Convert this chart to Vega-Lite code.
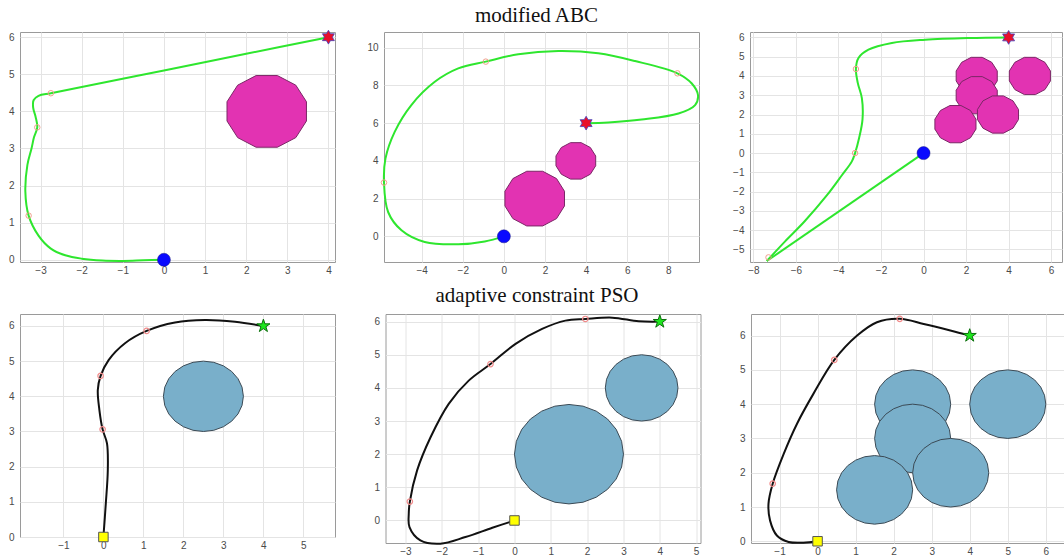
{
"$schema": "https://vega.github.io/schema/vega-lite/v6.json",
"background": "white",
"padding": {"left": 7, "top": 1, "right": 0, "bottom": 0},
"config": {
 "view": {"stroke": "#9a9a9a", "strokeWidth": 1},
 "axis": {"grid": true, "gridColor": "#e4e4e4", "domain": false, "ticks": false, "labelFont": "Liberation Sans", "labelFontSize": 10, "labelColor": "#4a4a4a", "labelPadding": 3},
 "axisY": {"labelPadding": 6},
 "title": {"font": "Liberation Serif", "fontSize": 21, "fontWeight": "normal", "color": "#111111"}
},
"spacing": 8,
"vconcat": [
{
 "spacing": 29,
 "hconcat": [
 {
  "title": {"text": " ", "offset": 6},
  "width": 315, "height": 230,
  "encoding": {
   "x": {"field": "x", "type": "quantitative", "scale": {"domain": [-3.5, 4.16], "nice": false, "zero": false}, "axis": {"values": [-3,-2,-1,0,1,2,3,4], "title": null}},
   "y": {"field": "y", "type": "quantitative", "scale": {"domain": [-0.06, 6.14], "nice": false, "zero": false}, "axis": {"values": [0,1,2,3,4,5,6], "title": null}}
  },
  "layer": [
   {"data": {"values": [
     {"o":1,"x":1.534,"y":4.259,"yb":3.741},{"o":1,"x":1.793,"y":4.707,"yb":3.293},{"o":1,"x":2.241,"y":4.966,"yb":3.034},
     {"o":1,"x":2.759,"y":4.966,"yb":3.034},{"o":1,"x":3.207,"y":4.707,"yb":3.293},{"o":1,"x":3.466,"y":4.259,"yb":3.741}]},
    "mark": {"type": "area", "fill": "#e233b2", "stroke": "#7b2766", "strokeWidth": 1, "opacity": 1},
    "encoding": {"y2": {"field": "yb"}, "detail": {"field": "o", "type": "nominal"}}},
   {"data": {"values": [
     {"i":0,"x":0,"y":0},{"i":1,"x":-0.5,"y":-0.015},{"i":2,"x":-1,"y":-0.03},{"i":3,"x":-1.5,"y":-0.02},{"i":4,"x":-2,"y":0.03},
     {"i":5,"x":-2.4,"y":0.12},{"i":6,"x":-2.75,"y":0.3},{"i":7,"x":-3.05,"y":0.65},{"i":8,"x":-3.29,"y":1.19},{"i":9,"x":-3.37,"y":1.84},
     {"i":10,"x":-3.32,"y":2.56},{"i":11,"x":-3.22,"y":3.0},{"i":12,"x":-3.16,"y":3.3},{"i":13,"x":-3.08,"y":3.57},{"i":14,"x":-3.12,"y":3.85},
     {"i":15,"x":-3.18,"y":4.1},{"i":16,"x":-3.17,"y":4.3},{"i":17,"x":-3.05,"y":4.42},{"i":18,"x":-2.75,"y":4.49},{"i":19,"x":-2,"y":4.658},
     {"i":20,"x":0,"y":5.105},{"i":21,"x":2,"y":5.553},{"i":22,"x":4,"y":6}]},
    "mark": {"type": "line", "color": "#2ee62e", "strokeWidth": 2, "interpolate": "catmull-rom"},
    "encoding": {"order": {"field": "i", "type": "quantitative"}}},
   {"data": {"values": [{"x":-3.29,"y":1.19},{"x":-3.08,"y":3.57},{"x":-2.75,"y":4.49}]},
    "mark": {"type": "point", "shape": "circle", "filled": false, "stroke": "#f0a08c", "strokeWidth": 1, "size": 30, "opacity": 1}, "encoding": {}},
   {"data": {"values": [{"x":0,"y":0}]},
    "mark": {"type": "point", "shape": "circle", "filled": true, "fill": "#0a0aff", "stroke": "#1a1a80", "strokeWidth": 0.5, "size": 170, "opacity": 1}, "encoding": {}},
   {"data": {"values": [{"x":4,"y":6}]},
    "mark": {"type": "point", "shape": "M0,-1L0.289,-0.5L0.866,-0.5L0.577,0L0.866,0.5L0.289,0.5L0,1L-0.289,0.5L-0.866,0.5L-0.577,0L-0.866,-0.5L-0.289,-0.5Z", "filled": true, "fill": "#e8102a", "stroke": "#4040c0", "strokeWidth": 0.8, "size": 190, "opacity": 1}, "encoding": {}}
  ]
 },
 {
  "title": {"text": "modified ABC", "offset": 6, "anchor": "middle", "dx": -5},
  "width": 315, "height": 230,
  "encoding": {
   "x": {"field": "x", "type": "quantitative", "scale": {"domain": [-5.83, 9.49], "nice": false, "zero": false}, "axis": {"values": [-4,-2,0,2,4,6,8], "title": null}},
   "y": {"field": "y", "type": "quantitative", "scale": {"domain": [-1.36, 10.83], "nice": false, "zero": false}, "axis": {"values": [0,2,4,6,8,10], "title": null}}
  },
  "layer": [
   {"data": {"values": [
     {"o":1,"x":0.051,"y":2.388,"yb":1.612},{"o":1,"x":0.439,"y":3.061,"yb":0.939},{"o":1,"x":1.112,"y":3.449,"yb":0.551},
     {"o":1,"x":1.888,"y":3.449,"yb":0.551},{"o":1,"x":2.561,"y":3.061,"yb":0.939},{"o":1,"x":2.949,"y":2.388,"yb":1.612},
     {"o":2,"x":2.534,"y":4.259,"yb":3.741},{"o":2,"x":2.793,"y":4.707,"yb":3.293},{"o":2,"x":3.241,"y":4.966,"yb":3.034},
     {"o":2,"x":3.759,"y":4.966,"yb":3.034},{"o":2,"x":4.207,"y":4.707,"yb":3.293},{"o":2,"x":4.466,"y":4.259,"yb":3.741}]},
    "mark": {"type": "area", "fill": "#e233b2", "stroke": "#7b2766", "strokeWidth": 1, "opacity": 1},
    "encoding": {"y2": {"field": "yb"}, "detail": {"field": "o", "type": "nominal"}}},
   {"data": {"values": [
     {"i":0,"x":0,"y":0},{"i":1,"x":-0.93,"y":-0.27},{"i":2,"x":-2.22,"y":-0.42},{"i":3,"x":-3.85,"y":-0.3},{"i":4,"x":-4.98,"y":0.32},
     {"i":5,"x":-5.63,"y":1.29},{"i":6,"x":-5.83,"y":2.85},{"i":7,"x":-5.76,"y":4.12},{"i":8,"x":-5.31,"y":5.54},{"i":9,"x":-4.5,"y":6.96},
     {"i":10,"x":-3.36,"y":8.19},{"i":11,"x":-2.22,"y":8.9},{"i":12,"x":-0.88,"y":9.26},{"i":13,"x":0.7,"y":9.65},{"i":14,"x":2.65,"y":9.82},
     {"i":15,"x":4.59,"y":9.7},{"i":16,"x":6.38,"y":9.29},{"i":17,"x":8.44,"y":8.64},{"i":18,"x":9.14,"y":8.1},{"i":19,"x":9.44,"y":7.49},
     {"i":20,"x":9.3,"y":6.96},{"i":21,"x":8.49,"y":6.51},{"i":22,"x":6.7,"y":6.19},{"i":23,"x":5.08,"y":6.04},{"i":24,"x":4,"y":6}]},
    "mark": {"type": "line", "color": "#2ee62e", "strokeWidth": 2, "interpolate": "catmull-rom"},
    "encoding": {"order": {"field": "i", "type": "quantitative"}}},
   {"data": {"values": [{"x":-5.83,"y":2.85},{"x":-0.88,"y":9.26},{"x":8.44,"y":8.64}]},
    "mark": {"type": "point", "shape": "circle", "filled": false, "stroke": "#f0a08c", "strokeWidth": 1, "size": 30, "opacity": 1}, "encoding": {}},
   {"data": {"values": [{"x":0,"y":0}]},
    "mark": {"type": "point", "shape": "circle", "filled": true, "fill": "#0a0aff", "stroke": "#1a1a80", "strokeWidth": 0.5, "size": 170, "opacity": 1}, "encoding": {}},
   {"data": {"values": [{"x":4,"y":6}]},
    "mark": {"type": "point", "shape": "M0,-1L0.289,-0.5L0.866,-0.5L0.577,0L0.866,0.5L0.289,0.5L0,1L-0.289,0.5L-0.866,0.5L-0.577,0L-0.866,-0.5L-0.289,-0.5Z", "filled": true, "fill": "#e8102a", "stroke": "#4040c0", "strokeWidth": 0.8, "size": 190, "opacity": 1}, "encoding": {}}
  ]
 },
 {
  "title": {"text": " ", "offset": 6},
  "width": 312, "height": 230,
  "encoding": {
   "x": {"field": "x", "type": "quantitative", "scale": {"domain": [-8.16, 6.51], "nice": false, "zero": false}, "axis": {"values": [-8,-6,-4,-2,0,2,4,6], "title": null}},
   "y": {"field": "y", "type": "quantitative", "scale": {"domain": [-5.65, 6.28], "nice": false, "zero": false}, "axis": {"values": [-5,-4,-3,-2,-1,0,1,2,3,4,5,6], "title": null}}
  },
  "layer": [
   {"data": {"values": [
     {"o":1,"x":1.534,"y":4.259,"yb":3.741},{"o":1,"x":1.793,"y":4.707,"yb":3.293},{"o":1,"x":2.241,"y":4.966,"yb":3.034},
     {"o":1,"x":2.759,"y":4.966,"yb":3.034},{"o":1,"x":3.207,"y":4.707,"yb":3.293},{"o":1,"x":3.466,"y":4.259,"yb":3.741},
     {"o":2,"x":1.534,"y":3.259,"yb":2.741},{"o":2,"x":1.793,"y":3.707,"yb":2.293},{"o":2,"x":2.241,"y":3.966,"yb":2.034},
     {"o":2,"x":2.759,"y":3.966,"yb":2.034},{"o":2,"x":3.207,"y":3.707,"yb":2.293},{"o":2,"x":3.466,"y":3.259,"yb":2.741},
     {"o":3,"x":0.534,"y":1.759,"yb":1.241},{"o":3,"x":0.793,"y":2.207,"yb":0.793},{"o":3,"x":1.241,"y":2.466,"yb":0.534},
     {"o":3,"x":1.759,"y":2.466,"yb":0.534},{"o":3,"x":2.207,"y":2.207,"yb":0.793},{"o":3,"x":2.466,"y":1.759,"yb":1.241},
     {"o":4,"x":2.534,"y":2.259,"yb":1.741},{"o":4,"x":2.793,"y":2.707,"yb":1.293},{"o":4,"x":3.241,"y":2.966,"yb":1.034},
     {"o":4,"x":3.759,"y":2.966,"yb":1.034},{"o":4,"x":4.207,"y":2.707,"yb":1.293},{"o":4,"x":4.466,"y":2.259,"yb":1.741},
     {"o":5,"x":4.034,"y":4.259,"yb":3.741},{"o":5,"x":4.293,"y":4.707,"yb":3.293},{"o":5,"x":4.741,"y":4.966,"yb":3.034},
     {"o":5,"x":5.259,"y":4.966,"yb":3.034},{"o":5,"x":5.707,"y":4.707,"yb":3.293},{"o":5,"x":5.966,"y":4.259,"yb":3.741}]},
    "mark": {"type": "area", "fill": "#e233b2", "stroke": "#7b2766", "strokeWidth": 1, "opacity": 1},
    "encoding": {"y2": {"field": "yb"}, "detail": {"field": "o", "type": "nominal"}}},
   {"data": {"values": [
     {"s":"a","i":0,"x":0,"y":0},{"s":"a","i":1,"x":-7.37,"y":-5.6},
     {"s":"b","i":0,"x":-7.37,"y":-5.6},{"s":"b","i":1,"x":-6.51,"y":-4.58},{"s":"b","i":2,"x":-5.6,"y":-3.55},{"s":"b","i":3,"x":-4.55,"y":-2.2},
     {"s":"b","i":4,"x":-3.84,"y":-1.15},{"s":"b","i":5,"x":-3.37,"y":-0.43},{"s":"b","i":6,"x":-3.22,"y":0},{"s":"b","i":7,"x":-3.03,"y":0.78},
     {"s":"b","i":8,"x":-2.87,"y":1.75},{"s":"b","i":9,"x":-2.9,"y":2.85},{"s":"b","i":10,"x":-3.09,"y":3.63},{"s":"b","i":11,"x":-3.18,"y":4.36},
     {"s":"b","i":12,"x":-3.06,"y":4.93},{"s":"b","i":13,"x":-2.59,"y":5.36},{"s":"b","i":14,"x":-1.49,"y":5.71},{"s":"b","i":15,"x":0.08,"y":5.88},
     {"s":"b","i":16,"x":2.12,"y":5.97},{"s":"b","i":17,"x":4,"y":6}]},
    "mark": {"type": "line", "color": "#2ee62e", "strokeWidth": 2, "interpolate": "catmull-rom"},
    "encoding": {"order": {"field": "i", "type": "quantitative"}, "detail": {"field": "s", "type": "nominal"}}},
   {"data": {"values": [{"x":-7.29,"y":-5.41},{"x":-3.22,"y":0},{"x":-3.18,"y":4.36}]},
    "mark": {"type": "point", "shape": "circle", "filled": false, "stroke": "#f0a08c", "strokeWidth": 1, "size": 30, "opacity": 1}, "encoding": {}},
   {"data": {"values": [{"x":0,"y":0}]},
    "mark": {"type": "point", "shape": "circle", "filled": true, "fill": "#0a0aff", "stroke": "#1a1a80", "strokeWidth": 0.5, "size": 170, "opacity": 1}, "encoding": {}},
   {"data": {"values": [{"x":4,"y":6}]},
    "mark": {"type": "point", "shape": "M0,-1L0.289,-0.5L0.866,-0.5L0.577,0L0.866,0.5L0.289,0.5L0,1L-0.289,0.5L-0.866,0.5L-0.577,0L-0.866,-0.5L-0.289,-0.5Z", "filled": true, "fill": "#e8102a", "stroke": "#4040c0", "strokeWidth": 0.8, "size": 190, "opacity": 1}, "encoding": {}}
  ]
 }
 ]
},
{
 "spacing": 36.5,
 "hconcat": [
 {
  "title": {"text": " ", "offset": 7},
  "width": 315, "height": 223,
  "encoding": {
   "x": {"field": "x", "type": "quantitative", "scale": {"domain": [-2.085, 5.79], "nice": false, "zero": false}, "axis": {"values": [-1,0,1,2,3,4,5], "title": null}},
   "y": {"field": "y", "type": "quantitative", "scale": {"domain": [0, 6.34], "nice": false, "zero": false}, "axis": {"values": [0,1,2,3,4,5,6], "title": null}}
  },
  "layer": [
   {"data": {"values": [
     {"o":1,"x":1.5,"y":4,"yb":4},{"o":1,"x":1.534,"y":4.259,"yb":3.741},{"o":1,"x":1.634,"y":4.5,"yb":3.5},{"o":1,"x":1.793,"y":4.707,"yb":3.293},
     {"o":1,"x":2,"y":4.866,"yb":3.134},{"o":1,"x":2.241,"y":4.966,"yb":3.034},{"o":1,"x":2.5,"y":5,"yb":3},{"o":1,"x":2.759,"y":4.966,"yb":3.034},
     {"o":1,"x":3,"y":4.866,"yb":3.134},{"o":1,"x":3.207,"y":4.707,"yb":3.293},{"o":1,"x":3.366,"y":4.5,"yb":3.5},{"o":1,"x":3.466,"y":4.259,"yb":3.741},
     {"o":1,"x":3.5,"y":4,"yb":4}]},
    "mark": {"type": "area", "fill": "#79afca", "stroke": "#3b4a55", "strokeWidth": 1, "opacity": 1},
    "encoding": {"y2": {"field": "yb"}, "detail": {"field": "o", "type": "nominal"}}},
   {"data": {"values": [
     {"i":0,"x":0,"y":0},{"i":1,"x":0.06,"y":0.95},{"i":2,"x":0.11,"y":1.9},{"i":3,"x":0.09,"y":2.66},{"i":4,"x":-0.02,"y":3.06},
     {"i":5,"x":-0.1,"y":3.61},{"i":6,"x":-0.14,"y":4.18},{"i":7,"x":-0.07,"y":4.58},{"i":8,"x":0.13,"y":5.03},{"i":9,"x":0.54,"y":5.51},
     {"i":10,"x":1.08,"y":5.86},{"i":11,"x":1.79,"y":6.1},{"i":12,"x":2.54,"y":6.17},{"i":13,"x":3.29,"y":6.12},{"i":14,"x":4,"y":6}]},
    "mark": {"type": "line", "color": "#111111", "strokeWidth": 2, "interpolate": "catmull-rom"},
    "encoding": {"order": {"field": "i", "type": "quantitative"}}},
   {"data": {"values": [{"x":-0.02,"y":3.06},{"x":-0.07,"y":4.58},{"x":1.08,"y":5.86}]},
    "mark": {"type": "point", "shape": "circle", "filled": false, "stroke": "#f28b8b", "strokeWidth": 1.2, "size": 30, "opacity": 1}, "encoding": {}},
   {"data": {"values": [{"x":0,"y":0}]},
    "mark": {"type": "point", "shape": "square", "filled": true, "fill": "#ffff00", "stroke": "#555555", "strokeWidth": 1, "size": 90, "opacity": 1}, "encoding": {}},
   {"data": {"values": [{"x":4,"y":6}]},
    "mark": {"type": "point", "shape": "M0,-1L0.225,-0.309L0.951,-0.309L0.363,0.118L0.588,0.809L0,0.382L-0.588,0.809L-0.363,0.118L-0.951,-0.309L-0.225,-0.309Z", "filled": true, "fill": "#1ee61e", "stroke": "#0b6e0b", "strokeWidth": 1, "size": 190, "opacity": 1}, "encoding": {}}
  ]
 },
 {
  "title": {"text": "adaptive constraint PSO", "offset": 7, "anchor": "middle", "dx": -6},
  "width": 315, "height": 229,
  "encoding": {
   "x": {"field": "x", "type": "quantitative", "scale": {"domain": [-3.55, 5.12], "nice": false, "zero": false}, "axis": {"values": [-3,-2,-1,0,1,2,3,4,5], "title": null}},
   "y": {"field": "y", "type": "quantitative", "scale": {"domain": [-0.68, 6.23], "nice": false, "zero": false}, "axis": {"values": [0,1,2,3,4,5,6], "title": null}}
  },
  "layer": [
   {"data": {"values": [
     {"o":1,"x":0,"y":2,"yb":2},{"o":1,"x":0.051,"y":2.388,"yb":1.612},{"o":1,"x":0.201,"y":2.75,"yb":1.25},{"o":1,"x":0.439,"y":3.061,"yb":0.939},
     {"o":1,"x":0.75,"y":3.299,"yb":0.701},{"o":1,"x":1.112,"y":3.449,"yb":0.551},{"o":1,"x":1.5,"y":3.5,"yb":0.5},{"o":1,"x":1.888,"y":3.449,"yb":0.551},
     {"o":1,"x":2.25,"y":3.299,"yb":0.701},{"o":1,"x":2.561,"y":3.061,"yb":0.939},{"o":1,"x":2.799,"y":2.75,"yb":1.25},{"o":1,"x":2.949,"y":2.388,"yb":1.612},
     {"o":1,"x":3,"y":2,"yb":2},
     {"o":2,"x":2.5,"y":4,"yb":4},{"o":2,"x":2.534,"y":4.259,"yb":3.741},{"o":2,"x":2.634,"y":4.5,"yb":3.5},{"o":2,"x":2.793,"y":4.707,"yb":3.293},
     {"o":2,"x":3,"y":4.866,"yb":3.134},{"o":2,"x":3.241,"y":4.966,"yb":3.034},{"o":2,"x":3.5,"y":5,"yb":3},{"o":2,"x":3.759,"y":4.966,"yb":3.034},
     {"o":2,"x":4,"y":4.866,"yb":3.134},{"o":2,"x":4.207,"y":4.707,"yb":3.293},{"o":2,"x":4.366,"y":4.5,"yb":3.5},{"o":2,"x":4.466,"y":4.259,"yb":3.741},
     {"o":2,"x":4.5,"y":4,"yb":4}]},
    "mark": {"type": "area", "fill": "#79afca", "stroke": "#3b4a55", "strokeWidth": 1, "opacity": 1},
    "encoding": {"y2": {"field": "yb"}, "detail": {"field": "o", "type": "nominal"}}},
   {"data": {"values": [
     {"i":0,"x":0,"y":0},{"i":1,"x":-0.61,"y":-0.22},{"i":2,"x":-1.35,"y":-0.5},{"i":3,"x":-2.04,"y":-0.7},{"i":4,"x":-2.59,"y":-0.6},
     {"i":5,"x":-2.89,"y":-0.2},{"i":6,"x":-2.91,"y":0.2},{"i":7,"x":-2.88,"y":0.57},{"i":8,"x":-2.68,"y":1.51},{"i":9,"x":-2.31,"y":2.51},
     {"i":10,"x":-1.81,"y":3.52},{"i":11,"x":-1.26,"y":4.22},{"i":12,"x":-0.66,"y":4.72},{"i":13,"x":0.03,"y":5.33},{"i":14,"x":0.76,"y":5.78},
     {"i":15,"x":1.4,"y":6.03},{"i":16,"x":1.95,"y":6.08},{"i":17,"x":2.69,"y":6.12},{"i":18,"x":3.42,"y":6.01},{"i":19,"x":4,"y":6}]},
    "mark": {"type": "line", "color": "#111111", "strokeWidth": 2, "interpolate": "catmull-rom"},
    "encoding": {"order": {"field": "i", "type": "quantitative"}}},
   {"data": {"values": [{"x":-2.88,"y":0.57},{"x":-0.66,"y":4.72},{"x":1.95,"y":6.08}]},
    "mark": {"type": "point", "shape": "circle", "filled": false, "stroke": "#f28b8b", "strokeWidth": 1.2, "size": 30, "opacity": 1}, "encoding": {}},
   {"data": {"values": [{"x":0,"y":0}]},
    "mark": {"type": "point", "shape": "square", "filled": true, "fill": "#ffff00", "stroke": "#555555", "strokeWidth": 1, "size": 90, "opacity": 1}, "encoding": {}},
   {"data": {"values": [{"x":4,"y":6}]},
    "mark": {"type": "point", "shape": "M0,-1L0.225,-0.309L0.951,-0.309L0.363,0.118L0.588,0.809L0,0.382L-0.588,0.809L-0.363,0.118L-0.951,-0.309L-0.225,-0.309Z", "filled": true, "fill": "#1ee61e", "stroke": "#0b6e0b", "strokeWidth": 1, "size": 190, "opacity": 1}, "encoding": {}}
  ]
 },
 {
  "title": {"text": " ", "offset": 7},
  "width": 318, "height": 229,
  "encoding": {
   "x": {"field": "x", "type": "quantitative", "scale": {"domain": [-1.75, 6.61], "nice": false, "zero": false}, "axis": {"values": [-1,0,1,2,3,4,5,6], "title": null}},
   "y": {"field": "y", "type": "quantitative", "scale": {"domain": [-0.05, 6.63], "nice": false, "zero": false}, "axis": {"values": [0,1,2,3,4,5,6], "title": null}}
  },
  "layer": [
   {"data": {"values": [
     {"o":1,"x":1.5,"y":4,"yb":4},{"o":1,"x":1.534,"y":4.259,"yb":3.741},{"o":1,"x":1.634,"y":4.5,"yb":3.5},{"o":1,"x":1.793,"y":4.707,"yb":3.293},
     {"o":1,"x":2,"y":4.866,"yb":3.134},{"o":1,"x":2.241,"y":4.966,"yb":3.034},{"o":1,"x":2.5,"y":5,"yb":3},{"o":1,"x":2.759,"y":4.966,"yb":3.034},
     {"o":1,"x":3,"y":4.866,"yb":3.134},{"o":1,"x":3.207,"y":4.707,"yb":3.293},{"o":1,"x":3.366,"y":4.5,"yb":3.5},{"o":1,"x":3.466,"y":4.259,"yb":3.741},
     {"o":1,"x":3.5,"y":4,"yb":4},
     {"o":2,"x":1.5,"y":3,"yb":3},{"o":2,"x":1.534,"y":3.259,"yb":2.741},{"o":2,"x":1.634,"y":3.5,"yb":2.5},{"o":2,"x":1.793,"y":3.707,"yb":2.293},
     {"o":2,"x":2,"y":3.866,"yb":2.134},{"o":2,"x":2.241,"y":3.966,"yb":2.034},{"o":2,"x":2.5,"y":4,"yb":2},{"o":2,"x":2.759,"y":3.966,"yb":2.034},
     {"o":2,"x":3,"y":3.866,"yb":2.134},{"o":2,"x":3.207,"y":3.707,"yb":2.293},{"o":2,"x":3.366,"y":3.5,"yb":2.5},{"o":2,"x":3.466,"y":3.259,"yb":2.741},
     {"o":2,"x":3.5,"y":3,"yb":3},
     {"o":3,"x":0.5,"y":1.5,"yb":1.5},{"o":3,"x":0.534,"y":1.759,"yb":1.241},{"o":3,"x":0.634,"y":2,"yb":1},{"o":3,"x":0.793,"y":2.207,"yb":0.793},
     {"o":3,"x":1,"y":2.366,"yb":0.634},{"o":3,"x":1.241,"y":2.466,"yb":0.534},{"o":3,"x":1.5,"y":2.5,"yb":0.5},{"o":3,"x":1.759,"y":2.466,"yb":0.534},
     {"o":3,"x":2,"y":2.366,"yb":0.634},{"o":3,"x":2.207,"y":2.207,"yb":0.793},{"o":3,"x":2.366,"y":2,"yb":1},{"o":3,"x":2.466,"y":1.759,"yb":1.241},
     {"o":3,"x":2.5,"y":1.5,"yb":1.5},
     {"o":4,"x":2.5,"y":2,"yb":2},{"o":4,"x":2.534,"y":2.259,"yb":1.741},{"o":4,"x":2.634,"y":2.5,"yb":1.5},{"o":4,"x":2.793,"y":2.707,"yb":1.293},
     {"o":4,"x":3,"y":2.866,"yb":1.134},{"o":4,"x":3.241,"y":2.966,"yb":1.034},{"o":4,"x":3.5,"y":3,"yb":1},{"o":4,"x":3.759,"y":2.966,"yb":1.034},
     {"o":4,"x":4,"y":2.866,"yb":1.134},{"o":4,"x":4.207,"y":2.707,"yb":1.293},{"o":4,"x":4.366,"y":2.5,"yb":1.5},{"o":4,"x":4.466,"y":2.259,"yb":1.741},
     {"o":4,"x":4.5,"y":2,"yb":2},
     {"o":5,"x":4,"y":4,"yb":4},{"o":5,"x":4.034,"y":4.259,"yb":3.741},{"o":5,"x":4.134,"y":4.5,"yb":3.5},{"o":5,"x":4.293,"y":4.707,"yb":3.293},
     {"o":5,"x":4.5,"y":4.866,"yb":3.134},{"o":5,"x":4.741,"y":4.966,"yb":3.034},{"o":5,"x":5,"y":5,"yb":3},{"o":5,"x":5.259,"y":4.966,"yb":3.034},
     {"o":5,"x":5.5,"y":4.866,"yb":3.134},{"o":5,"x":5.707,"y":4.707,"yb":3.293},{"o":5,"x":5.866,"y":4.5,"yb":3.5},{"o":5,"x":5.966,"y":4.259,"yb":3.741},
     {"o":5,"x":6,"y":4,"yb":4}]},
    "mark": {"type": "area", "fill": "#79afca", "stroke": "#3b4a55", "strokeWidth": 1, "opacity": 1},
    "encoding": {"y2": {"field": "yb"}, "detail": {"field": "o", "type": "nominal"}}},
   {"data": {"values": [
     {"i":0,"x":0,"y":0},{"i":1,"x":-0.37,"y":-0.04},{"i":2,"x":-0.76,"y":-0.02},{"i":3,"x":-1.07,"y":0.17},{"i":4,"x":-1.25,"y":0.61},
     {"i":5,"x":-1.29,"y":1.1},{"i":6,"x":-1.18,"y":1.68},{"i":7,"x":-0.89,"y":2.55},{"i":8,"x":-0.54,"y":3.43},{"i":9,"x":-0.11,"y":4.3},
     {"i":10,"x":0.44,"y":5.29},{"i":11,"x":1.04,"y":6.0},{"i":12,"x":1.56,"y":6.39},{"i":13,"x":2.16,"y":6.49},{"i":14,"x":2.79,"y":6.34},
     {"i":15,"x":3.49,"y":6.15},{"i":16,"x":4,"y":6}]},
    "mark": {"type": "line", "color": "#111111", "strokeWidth": 2, "interpolate": "catmull-rom"},
    "encoding": {"order": {"field": "i", "type": "quantitative"}}},
   {"data": {"values": [{"x":-1.18,"y":1.68},{"x":0.44,"y":5.29},{"x":2.16,"y":6.49}]},
    "mark": {"type": "point", "shape": "circle", "filled": false, "stroke": "#f28b8b", "strokeWidth": 1.2, "size": 30, "opacity": 1}, "encoding": {}},
   {"data": {"values": [{"x":0,"y":0}]},
    "mark": {"type": "point", "shape": "square", "filled": true, "fill": "#ffff00", "stroke": "#555555", "strokeWidth": 1, "size": 90, "opacity": 1}, "encoding": {}},
   {"data": {"values": [{"x":4,"y":6}]},
    "mark": {"type": "point", "shape": "M0,-1L0.225,-0.309L0.951,-0.309L0.363,0.118L0.588,0.809L0,0.382L-0.588,0.809L-0.363,0.118L-0.951,-0.309L-0.225,-0.309Z", "filled": true, "fill": "#1ee61e", "stroke": "#0b6e0b", "strokeWidth": 1, "size": 190, "opacity": 1}, "encoding": {}}
  ]
 }
 ]
}
]
}
